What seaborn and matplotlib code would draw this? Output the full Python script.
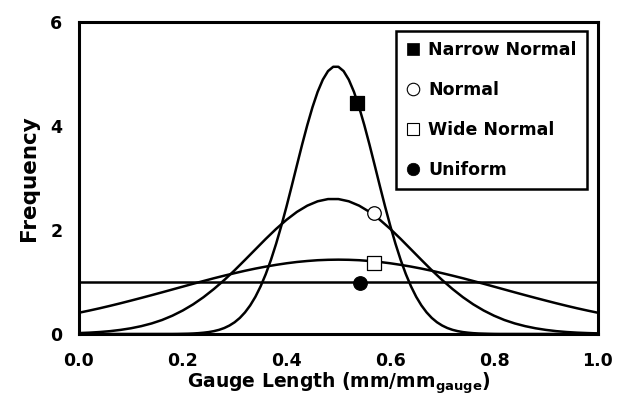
import numpy as np
import pandas as pd
import matplotlib
matplotlib.use("Agg")
import matplotlib.pyplot as plt
from matplotlib.lines import Line2D
import seaborn as sns

# ---- data ----
x_grid = [0.00, 0.02, 0.04, 0.06, 0.08, 0.10, 0.12, 0.14, 0.16, 0.18,
          0.20, 0.22, 0.24, 0.26, 0.28, 0.30, 0.32, 0.34, 0.36, 0.38,
          0.40, 0.42, 0.44, 0.46, 0.48, 0.50, 0.52, 0.54, 0.56, 0.58,
          0.60, 0.62, 0.64, 0.66, 0.68, 0.70, 0.72, 0.74, 0.76, 0.78,
          0.80, 0.82, 0.84, 0.86, 0.88, 0.90, 0.92, 0.94, 0.96, 0.98, 1.00]

narrow_x = [0.00, 0.18, 0.19, 0.20, 0.21, 0.22, 0.23, 0.24, 0.25, 0.26, 0.27,
            0.28, 0.29, 0.30, 0.31, 0.32, 0.33, 0.34, 0.35, 0.36, 0.37,
            0.38, 0.39, 0.40, 0.41, 0.42, 0.43, 0.44, 0.45, 0.46, 0.47,
            0.48, 0.49, 0.50, 0.51, 0.52, 0.53, 0.54, 0.55, 0.56, 0.57,
            0.58, 0.59, 0.60, 0.61, 0.62, 0.63, 0.64, 0.65, 0.66, 0.67,
            0.68, 0.69, 0.70, 0.71, 0.72, 0.73, 0.74, 0.75, 0.76, 0.77,
            0.78, 0.79, 0.80, 0.81, 1.00]
narrow_y = [0.000, 0.001, 0.002, 0.004, 0.006, 0.010, 0.016, 0.025, 0.037, 0.055, 0.080,
            0.115, 0.163, 0.226, 0.309, 0.416, 0.550, 0.715, 0.915, 1.152, 1.426,
            1.737, 2.081, 2.452, 2.844, 3.244, 3.640, 4.016, 4.360, 4.657, 4.892,
            5.056, 5.139, 5.139, 5.056, 4.892, 4.657, 4.360, 4.016, 3.640, 3.244,
            2.843, 2.452, 2.081, 1.737, 1.426, 1.152, 0.915, 0.715, 0.550, 0.416,
            0.309, 0.226, 0.163, 0.115, 0.080, 0.055, 0.037, 0.025, 0.016, 0.010,
            0.007, 0.004, 0.002, 0.001, 0.000]

normal_y = [0.018, 0.026, 0.038, 0.055, 0.079, 0.110, 0.151, 0.203, 0.269, 0.352,
            0.452, 0.570, 0.708, 0.865, 1.038, 1.226, 1.425, 1.627, 1.829, 2.021,
            2.196, 2.348, 2.468, 2.552, 2.595, 2.595, 2.552, 2.468, 2.348, 2.196,
            2.021, 1.829, 1.627, 1.425, 1.226, 1.038, 0.865, 0.708, 0.570, 0.452,
            0.352, 0.269, 0.203, 0.151, 0.110, 0.079, 0.055, 0.038, 0.026, 0.018, 0.012]

wide_y = [0.409, 0.451, 0.495, 0.542, 0.591, 0.642, 0.694, 0.747, 0.801, 0.856,
          0.911, 0.966, 1.019, 1.072, 1.122, 1.170, 1.216, 1.258, 1.296, 1.330,
          1.360, 1.385, 1.404, 1.419, 1.427, 1.430, 1.427, 1.419, 1.404, 1.385,
          1.360, 1.330, 1.296, 1.258, 1.216, 1.170, 1.122, 1.072, 1.019, 0.966,
          0.911, 0.856, 0.801, 0.747, 0.694, 0.642, 0.591, 0.542, 0.495, 0.451, 0.409]

uniform_x = [0.0, 1.0]
uniform_y = [1.0, 1.0]

series_names = ["Narrow Normal", "Normal", "Wide Normal", "Uniform"]
marker_x = [0.536, 0.568, 0.568, 0.541]
marker_y = [4.45, 2.32, 1.37, 0.975]

x_ticks = [0.0, 0.2, 0.4, 0.6, 0.8, 1.0]
y_ticks = [0, 2, 4, 6]

# ---- build tables ----
curves = pd.concat([
    pd.DataFrame({"x": narrow_x, "y": narrow_y, "series": "Narrow Normal"}),
    pd.DataFrame({"x": x_grid, "y": normal_y, "series": "Normal"}),
    pd.DataFrame({"x": x_grid, "y": wide_y, "series": "Wide Normal"}),
    pd.DataFrame({"x": uniform_x, "y": uniform_y, "series": "Uniform"}),
], ignore_index=True)
marks = pd.DataFrame({"x": marker_x, "y": marker_y, "series": series_names})

sns.set_style("white")
plt.rcParams["font.family"] = ["DejaVu Sans"]
plt.rcParams["font.weight"] = "bold"
plt.rcParams["text.color"] = "black"
plt.rcParams["axes.labelcolor"] = "black"
plt.rcParams["xtick.color"] = "black"
plt.rcParams["ytick.color"] = "black"

fig = plt.figure(figsize=(6.24, 3.98), dpi=100)
ax = fig.add_axes([0.1266, 0.1608, 0.8314, 0.7839])

sns.lineplot(data=curves, x="x", y="y", units="series", estimator=None,
             color="black", lw=1.8, ax=ax, legend=False, sort=False)

marker_styles = {"Narrow Normal": ("s", "black"),
                 "Normal": ("o", "white"),
                 "Wide Normal": ("s", "white"),
                 "Uniform": ("o", "black")}
for name in series_names:
    sub = marks[marks["series"] == name]
    m, fc = marker_styles[name]
    sns.scatterplot(data=sub, x="x", y="y", marker=m, s=95, color=fc,
                    edgecolor="black", linewidth=0.9, ax=ax, zorder=5, legend=False)

ax.set_xlim(0, 1)
ax.set_ylim(0, 6)
ax.set_xticks(x_ticks)
ax.set_xticklabels([f"{v:.1f}" for v in x_ticks], fontsize=12.5, fontweight="bold")
ax.set_yticks(y_ticks)
ax.set_yticklabels([str(v) for v in y_ticks], fontsize=12.5, fontweight="bold")
ax.set_xticks([0.1, 0.3, 0.5, 0.7, 0.9], minor=True)
ax.tick_params(axis="both", which="both", direction="in", length=5, width=1,
               color="black")
ax.tick_params(axis="both", which="major", length=7)
ax.tick_params(axis="y", which="major", pad=12)
ax.tick_params(axis="x", which="major", pad=13)

for sp in ax.spines.values():
    sp.set_visible(True)
    sp.set_linewidth(2.2)
    sp.set_color("black")

ax.set_xlabel("Gauge Length (mm/mm$_{\\mathregular{gauge}}$)", fontsize=13.5,
              fontweight="bold", labelpad=0)
ax.set_ylabel("Frequency", fontsize=15.5, fontweight="bold", labelpad=8)

handles = []
for name in series_names:
    m, fc = marker_styles[name]
    handles.append(Line2D([], [], linestyle="none", marker=m, markersize=9,
                          markerfacecolor=fc, markeredgecolor="black",
                          markeredgewidth=0.8 if fc == "white" else 0.5))
leg = ax.legend(handles, series_names, loc="upper right",
                bbox_to_anchor=(0.98, 0.971), frameon=True, fancybox=False,
                edgecolor="black", framealpha=1,
                prop={"weight": "bold", "size": 12.5},
                handlelength=0.8, handletextpad=0.5, labelspacing=1.25,
                borderpad=0.6, borderaxespad=0)
leg.get_frame().set_linewidth(1.8)

fig.savefig("out.png", dpi=100)
